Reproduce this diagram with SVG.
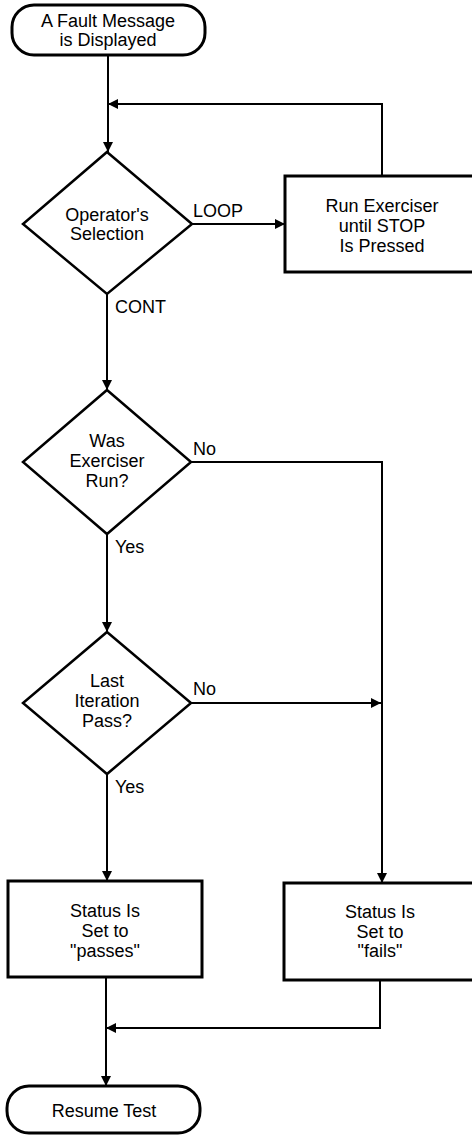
<svg xmlns="http://www.w3.org/2000/svg" width="472" height="1135" viewBox="0 0 472 1135">
<defs>
<marker id="ah" viewBox="0 0 10 10" refX="10" refY="5" markerWidth="10" markerHeight="10" markerUnits="userSpaceOnUse" orient="auto">
<path d="M0,0 L10,5 L0,10 z" fill="#000"/>
</marker>
</defs>
<style>
.t{font-family:"Liberation Sans",Arial,sans-serif;font-size:18px;fill:#000;text-anchor:middle}
.l{font-family:"Liberation Sans",Arial,sans-serif;font-size:18px;fill:#000}
.box{fill:#fff;stroke:#000;stroke-width:3}
.dia{fill:#fff;stroke:#000;stroke-width:2.5}
.c{fill:none;stroke:#000;stroke-width:2}
.ca{fill:none;stroke:#000;stroke-width:2;marker-end:url(#ah)}
</style>
<rect width="472" height="1135" fill="#fff"/>
<g id="connectors">
<path class="ca" d="M108,55 L108,152"/>
<path class="ca" d="M382,176 L382,104 L108,104"/>
<path class="ca" d="M192,224 L285,224"/>
<path class="ca" d="M107,294 L107,390"/>
<path class="ca" d="M191,462 L382,462 L382,883"/>
<path class="ca" d="M191,703 L381,703"/>
<path class="ca" d="M107,534 L107,632"/>
<path class="ca" d="M107,774 L107,881"/>
<path class="ca" d="M106,977 L106,1086"/>
<path class="ca" d="M380,980 L380,1028 L106,1028"/>
</g>
<g id="start">
<rect class="box" x="12" y="5" width="193" height="50" rx="22"/>
<text class="t" x="108" y="27">A Fault Message</text>
<text class="t" x="108" y="46">is Displayed</text>
</g>
<g id="sel">
<polygon class="dia" points="107,152 192,224 107,294 23,224"/>
<text class="t" x="107" y="221">Operator's</text>
<text class="t" x="107" y="240">Selection</text>
</g>
<g id="run">
<rect class="box" x="285" y="176" width="200" height="96"/>
<text class="t" x="382" y="212">Run Exerciser</text>
<text class="t" x="382" y="232">until STOP</text>
<text class="t" x="382" y="252">Is Pressed</text>
</g>
<g id="wasrun">
<polygon class="dia" points="107,390 191,462 107,534 23,462"/>
<text class="t" x="107" y="447">Was</text>
<text class="t" x="107" y="467">Exerciser</text>
<text class="t" x="107" y="487">Run?</text>
</g>
<g id="lastpass">
<polygon class="dia" points="107,632 191,703 107,774 23,703"/>
<text class="t" x="107" y="687">Last</text>
<text class="t" x="107" y="707">Iteration</text>
<text class="t" x="107" y="727">Pass?</text>
</g>
<g id="passes">
<rect class="box" x="8" y="881" width="194" height="96"/>
<text class="t" x="105" y="917">Status Is</text>
<text class="t" x="105" y="937">Set to</text>
<text class="t" x="105" y="957">"passes"</text>
</g>
<g id="fails">
<rect class="box" x="284" y="883" width="200" height="97"/>
<text class="t" x="380" y="918">Status Is</text>
<text class="t" x="380" y="938">Set to</text>
<text class="t" x="380" y="957">"fails"</text>
</g>
<g id="end">
<rect class="box" x="7" y="1086" width="193" height="47" rx="22"/>
<text class="t" x="104" y="1117">Resume Test</text>
</g>
<g id="labels">
<text class="l" x="193" y="217">LOOP</text>
<text class="l" x="115" y="313">CONT</text>
<text class="l" x="193" y="455">No</text>
<text class="l" x="115" y="553">Yes</text>
<text class="l" x="193" y="695">No</text>
<text class="l" x="115" y="793">Yes</text>
</g>
</svg>
